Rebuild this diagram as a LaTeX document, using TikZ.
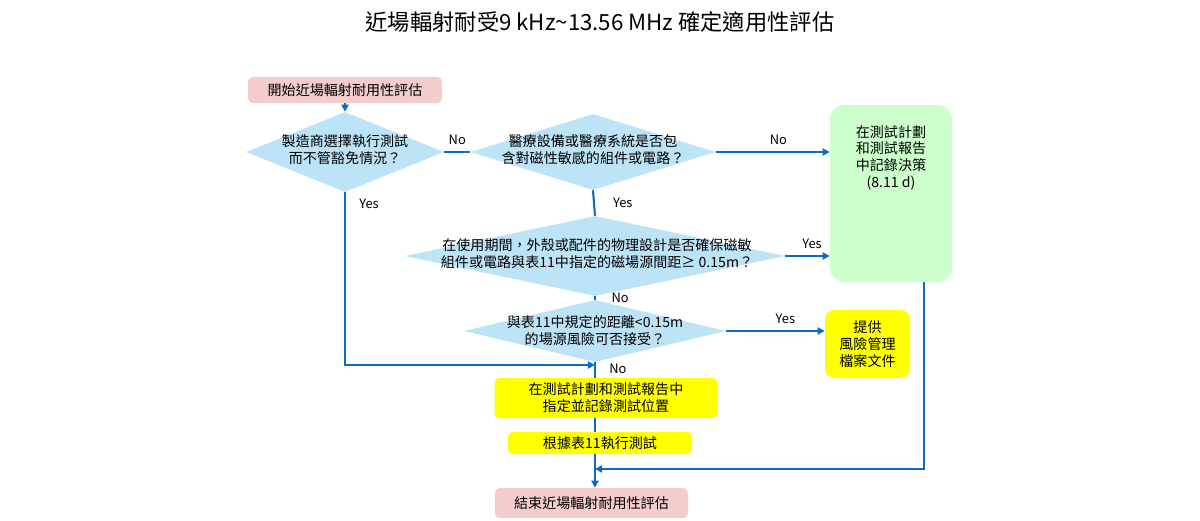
\documentclass[tikz,border=0pt]{standalone}
\usepackage{fontspec}
\setmainfont{Noto Sans CJK TC}
\usetikzlibrary{shapes.geometric,arrows.meta}
\definecolor{dia}{HTML}{BDE3F7}
\definecolor{pinkb}{HTML}{F4CCCC}
\definecolor{greenb}{HTML}{CCFFCC}
\definecolor{yel}{HTML}{FFFF00}
\definecolor{ln}{HTML}{0E6CC0}
\tikzset{
 dnode/.style={diamond,fill=dia,inner sep=0pt,aspect=2},
 txt/.style={font=\fontsize{12}{14.5}\selectfont,align=center},
 lbl/.style={font=\fontsize{11}{13}\selectfont},
 rbox/.style={rounded corners=4pt,inner sep=0pt,txt},
 conn/.style={draw=ln,line width=1.8pt},
 arr/.style={conn,-{Triangle[length=6pt,width=6pt]}},
}
\begin{document}
\begin{tikzpicture}[x=0.03cm,y=-0.03cm]
\useasboundingbox (0,0) rectangle (1200,520);
\node[font=\fontsize{19}{22}\selectfont] (title) at (600,22) {近場輻射耐受9 kHz\char"007E 13.56 MHz 確定適用性評估};
\node[rbox,fill=pinkb,minimum width=194*0.03cm,minimum height=26*0.03cm] (start) at (345,90) {開始近場輻射耐用性評估};
\node[dnode,minimum width=198*0.03cm,minimum height=80*0.03cm] (d1) at (345,152) {};
\node[txt] at (345,150) {製造商選擇執行測試\\而不管豁免情況？};
\node[dnode,minimum width=245*0.03cm,minimum height=76*0.03cm] (d2) at (593,152) {};
\node[txt] at (593,150) {醫療設備或醫療系統是否包\\含對磁性敏感的組件或電路？};
\node[dnode,minimum width=380*0.03cm,minimum height=80*0.03cm] (d3) at (595,256) {};
\node[txt] at (597,254) {在使用期間，外殼或配件的物理設計是否確保磁敏\\組件或電路與表11中指定的磁場源間距≥ 0.15m？};
\node[dnode,minimum width=262*0.03cm,minimum height=62*0.03cm] (d4) at (595,331) {};
\node[txt] at (595,331) {與表11中規定的距離<0.15m\\的場源風險可否接受？};
\node[rbox,fill=greenb,rounded corners=12pt,minimum width=122*0.03cm,minimum height=177*0.03cm] (green) at (891,193.5) {};
\node[txt,anchor=north] at (891,121) {在測試計劃\\和測試報告\\中記錄決策\\(8.11 d)};
\node[rbox,fill=yel,rounded corners=8pt,minimum width=85*0.03cm,minimum height=68*0.03cm] (risk) at (867.5,344) {提供\\風險管理\\檔案文件};
\node[rbox,fill=yel,minimum width=223*0.03cm,minimum height=40*0.03cm] (b1) at (606,398) {在測試計劃和測試報告中\\指定並記錄測試位置};
\node[rbox,fill=yel,minimum width=184*0.03cm,minimum height=22*0.03cm] (b2) at (600,443) {根據表11執行測試};
\node[rbox,fill=pinkb,minimum width=193*0.03cm,minimum height=30*0.03cm] (end) at (591.5,503) {結束近場輻射耐用性評估};
\coordinate (j1) at (595,365);
\coordinate (j2) at (595,469);
\draw[arr] (start.south) -- (d1.north);
\draw[conn] (d1.east) -- node[lbl,above,yshift=2pt]{No} (d2.west);
\draw[arr] (d2.east) -- node[lbl,above,pos=0.55,yshift=2pt]{No} (d2.east-|green.west);
\draw[conn] (d2.south) -- node[lbl,right,xshift=12pt]{Yes} (d3.north);
\draw[arr] (d3.east) -- node[lbl,above,pos=0.6,yshift=2pt]{Yes} (d3.east-|green.west);
\draw[conn] (d3.south) -- node[lbl,right,xshift=10pt]{No} (d4.north);
\draw[arr] (d4.east) -- node[lbl,above,pos=0.6,yshift=2pt]{Yes} (d4.east-|risk.west);
\draw[arr] (d1.south) -- node[lbl,right,pos=0.07,xshift=8pt]{Yes} (345,365) -- (j1);
\draw[conn] (d4.south) -- node[lbl,right,pos=0.4,xshift=8pt]{No} (d4.south|-b1.north);
\draw[conn] (d4.south|-b1.south) -- (d4.south|-b2.north);
\draw[arr] (d4.south|-b2.south) -- (d4.south|-end.north);
\draw[arr] (924,282) -- (924,469) -- (j2);
\end{tikzpicture}
\end{document}
